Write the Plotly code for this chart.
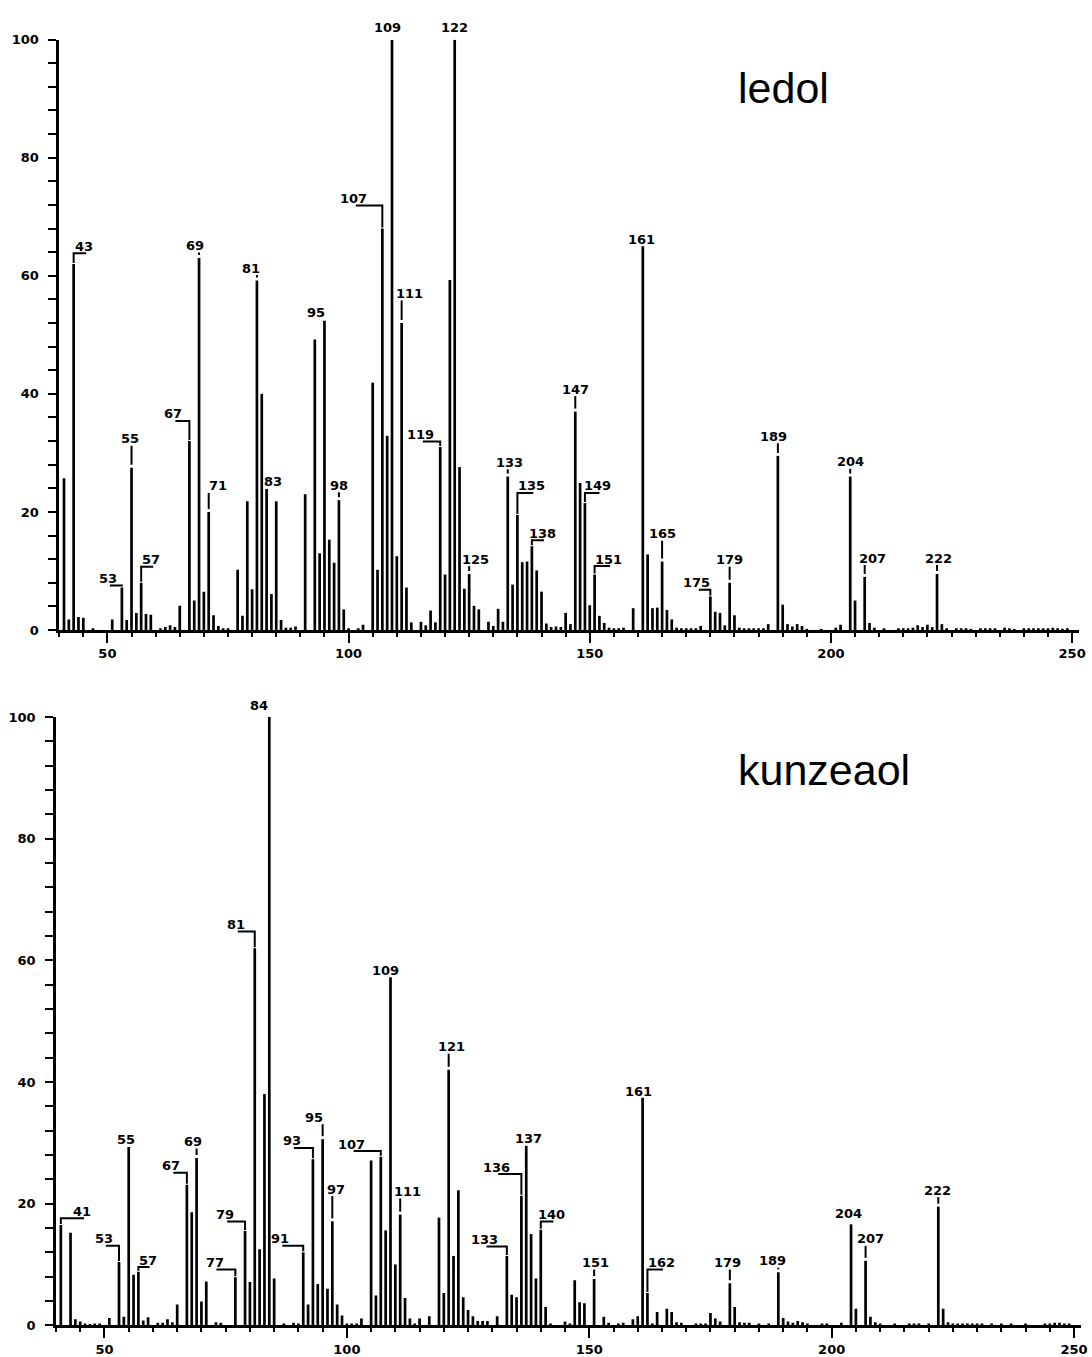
import plotly.graph_objects as go

# ---------------- data: ledol ----------------
ledol_mz = [41, 42, 43, 44, 45, 47, 51, 53, 54, 55, 56, 57, 58, 59, 61, 62, 63, 64, 65,
            67, 68, 69, 70, 71, 72, 73, 74, 75, 77, 78, 79, 80, 81, 82, 83, 84, 85, 86,
            87, 88, 89, 91, 93, 94, 95, 96, 97, 98, 99, 100, 102, 103, 105, 106, 107,
            108, 109, 110, 111, 112, 113, 115, 116, 117, 118, 119, 120, 121, 122, 123,
            124, 125, 126, 127, 129, 130, 131, 132, 133, 134, 135, 136, 137, 138, 139,
            140, 141, 142, 143, 144, 145, 146, 147, 148, 149, 150, 151, 152, 153, 154,
            155, 156, 157, 159, 161, 162, 163, 164, 165, 166, 167, 168, 169, 170, 171,
            172, 173, 175, 176, 177, 178, 179, 180, 181, 182, 183, 184, 185, 186, 187,
            189, 190, 191, 192, 193, 194, 195, 198, 201, 202, 204, 205, 207, 208, 209,
            211, 214, 215, 216, 217, 218, 219, 220, 221, 222, 223, 224, 226, 227, 228,
            229, 231, 232, 233, 234, 236, 237, 238, 240, 241, 242, 243, 244, 245, 246,
            247, 248, 249]
ledol_int = [25.7, 1.8, 62.0, 2.2, 2.1, 0.3, 1.8, 7.2, 1.7, 27.5, 2.9, 8.0, 2.7, 2.6, 0.3, 0.5, 0.8, 0.5, 4.1,
             32.0, 5.0, 63.0, 6.5, 20.0, 2.5, 0.7, 0.3, 0.3, 10.2, 2.4, 21.8, 6.9, 59.2, 40.0, 23.9, 6.1, 21.8, 1.7,
             0.4, 0.4, 0.6, 23.0, 49.2, 13.0, 52.4, 15.3, 11.4, 22.0, 3.5, 0.3, 0.3, 0.9, 41.9, 10.2, 68.0,
             32.9, 100.0, 12.5, 52.0, 7.2, 1.3, 1.4, 0.8, 3.3, 1.3, 31.0, 9.4, 59.3, 100.0, 27.6,
             7.0, 9.5, 4.1, 3.5, 1.4, 0.7, 3.6, 1.4, 26.0, 7.7, 19.5, 11.5, 11.6, 14.2, 10.1,
             6.5, 1.1, 0.5, 0.6, 0.5, 2.9, 1.0, 37.0, 24.9, 21.5, 4.2, 9.4, 2.4, 1.2, 0.4,
             0.3, 0.3, 0.4, 3.7, 65.0, 12.8, 3.7, 3.8, 11.6, 3.4, 1.8, 0.4, 0.3, 0.3, 0.3,
             0.3, 0.7, 5.7, 3.1, 2.9, 0.8, 8.0, 2.5, 0.4, 0.3, 0.3, 0.3, 0.3, 0.3, 1.0,
             29.5, 4.3, 1.0, 0.6, 1.0, 0.7, 0.2, 0.2, 0.4, 0.9, 26.0, 5.0, 9.0, 1.2, 0.4,
             0.3, 0.3, 0.3, 0.3, 0.4, 0.8, 0.5, 0.9, 0.5, 9.5, 1.0, 0.3, 0.3, 0.3, 0.3,
             0.2, 0.3, 0.3, 0.3, 0.3, 0.4, 0.3, 0.2, 0.3, 0.3, 0.3, 0.3, 0.3, 0.3, 0.4,
             0.3, 0.2, 0.3]
ledol_labels = [43, 53, 55, 57, 67, 69, 71, 81, 83, 95, 98, 107, 109, 111, 119, 122, 125,
                133, 135, 138, 147, 149, 151, 161, 165, 175, 179, 189, 204, 207, 222]

# ---------------- data: kunzeaol ----------------
kunz_mz = [41, 43, 44, 45, 46, 47, 48, 49, 51, 53, 54, 55, 56, 57, 58, 59, 61, 62, 63, 64,
           65, 67, 68, 69, 70, 71, 73, 74, 77, 79, 80, 81, 82, 83, 84, 85, 87, 89, 90, 91,
           92, 93, 94, 95, 96, 97, 98, 99, 100, 101, 102, 103, 105, 106, 107, 108, 109,
           110, 111, 112, 113, 114, 115, 117, 119, 120, 121, 122, 123, 124, 125, 126, 127,
           128, 129, 131, 133, 134, 135, 136, 137, 138, 139, 140, 141, 142, 145, 146, 147,
           148, 149, 151, 153, 154, 156, 157, 159, 160, 161, 162, 163, 164, 166, 167, 168,
           169, 172, 173, 174, 175, 176, 177, 179, 180, 181, 182, 183, 185, 187, 189, 190,
           191, 192, 193, 194, 195, 198, 199, 202, 204, 205, 207, 208, 209, 210, 213, 216,
           217, 218, 220, 222, 223, 224, 225, 226, 227, 228, 229, 230, 231, 233, 235, 237,
           240, 244, 245, 246, 247, 248, 249]
kunz_int = [16.5, 15.2, 1.0, 0.6, 0.3, 0.2, 0.3, 0.3, 1.2, 10.4, 1.4, 29.3, 8.3, 8.8, 0.8, 1.3, 0.4, 0.4, 1.0, 0.5,
            3.4, 23.1, 18.6, 27.5, 3.9, 7.2, 0.5, 0.4, 7.9, 15.5, 7.1, 62.0, 12.5, 38.0, 100.0, 7.7, 0.3, 0.4, 0.3, 12.0,
            3.4, 27.3, 6.8, 30.6, 6.0, 17.1, 3.4, 1.6, 0.3, 0.3, 0.3, 1.1, 27.1, 4.9, 27.7, 15.6, 57.2,
            10.0, 18.2, 4.5, 1.1, 0.3, 1.1, 1.5, 17.7, 5.3, 42.0, 11.4, 22.2, 4.6, 2.5, 1.5, 0.7,
            0.7, 0.7, 1.5, 11.4, 5.0, 4.6, 21.3, 29.5, 15.0, 7.7, 15.7, 3.0, 0.3, 0.6, 0.3, 7.4,
            3.8, 3.6, 7.6, 1.4, 0.4, 0.3, 0.4, 1.0, 1.5, 37.4, 5.3, 0.3, 2.2, 2.7, 2.2, 0.5,
            0.4, 0.3, 0.3, 0.3, 2.0, 1.1, 0.6, 6.9, 3.0, 0.5, 0.4, 0.4, 0.3, 0.3, 8.7, 1.2,
            0.6, 0.4, 0.7, 0.5, 0.3, 0.3, 0.3, 0.4, 16.6, 2.7, 10.6, 1.4, 0.5, 0.3, 0.3, 0.3,
            0.3, 0.3, 0.3, 19.5, 2.7, 0.5, 0.3, 0.3, 0.3, 0.3, 0.3, 0.3, 0.3, 0.3, 0.3, 0.3,
            0.3, 0.3, 0.3, 0.4, 0.4, 0.3, 0.3]
kunz_labels = [41, 53, 55, 57, 67, 69, 77, 79, 81, 84, 91, 93, 95, 97, 107, 109, 111, 121,
               133, 136, 137, 140, 151, 161, 162, 179, 189, 204, 207, 222]

x_ticks = [50, 100, 150, 200, 250]
y_ticks = [0, 20, 40, 60, 80, 100]

# ---------------- label placement (layout only) ----------------
# horizontal offset of label centre (m/z units), label centre height (% units), bracketed leader
ledol_lab_dx = [2.2, -2.9, -0.4, 2.1, -3.3, -0.8, 1.9, -1.2, 1.25, -1.7, 0.0, -5.9, -1.0, 1.7,
                -4.0, 0.0, 1.4, 0.3, 2.9, 2.1, 0.0, 2.6, 2.8, -0.3, 0.0, -2.8, 0.0, -0.9, 0.0,
                1.7, 0.3]
ledol_lab_y = [65.0, 8.7, 32.4, 11.9, 36.6, 65.1, 24.4, 61.3, 25.1, 53.8, 24.5, 73.1, 102.1,
               57.0, 33.1, 102.1, 12.0, 28.4, 24.4, 16.4, 40.8, 24.4, 12.0, 66.1, 16.3, 8.0,
               11.9, 32.8, 28.5, 12.2, 12.2]
ledol_lab_br = [1, 1, 0, 1, 1, 0, 0, 0, 0, 0, 0, 1, 0, 0, 1, 0, 0, 0, 1, 1, 0, 1, 1, 0, 0, 1,
                0, 0, 0, 0, 0]

kunz_lab_dx = [4.4, -3.1, -0.5, 1.9, -3.2, -0.75, -4.3, -4.1, -3.9, -2.1, -4.7, -4.3, -1.8,
               0.75, -6.0, -1.0, 1.5, 0.5, -4.6, -5.2, 0.55, 2.2, 0.2, -0.8, 2.8, -0.4, -1.3,
               -0.5, 1.1, -0.2]
kunz_lab_y = [18.75, 14.2, 30.5, 10.7, 26.2, 30.2, 10.3, 18.2, 65.9, 101.9, 14.2, 30.3, 34.2,
              22.4, 29.8, 58.4, 22.0, 45.8, 14.1, 26.0, 30.7, 18.2, 10.3, 38.5, 10.3, 10.3,
              10.6, 18.4, 14.2, 22.2]
kunz_lab_br = [1, 1, 0, 1, 1, 0, 1, 1, 1, 0, 1, 1, 0, 0, 1, 0, 0, 0, 1, 1, 0, 1, 0, 0, 1, 0,
               0, 0, 0, 0]

W, H = 1092, 1357
panels = [
    dict(mz=ledol_mz, it=ledol_int, labels=ledol_labels, dx=ledol_lab_dx, ly=ledol_lab_y,
         br=ledol_lab_br, name="ledol", xpx=(59.5, 1085.3), ypx=(630, 33), namey=82),
    dict(mz=kunz_mz, it=kunz_int, labels=kunz_labels, dx=kunz_lab_dx, ly=kunz_lab_y,
         br=kunz_lab_br, name="kunzeaol", xpx=(56.3, 1087.3), ypx=(1333, 718), namey=772),
]

LABFONT = dict(family="DejaVu Sans", size=13, color="black", weight="bold")
fig = go.Figure()
annotations = []
layout = {}

for i, p in enumerate(panels):
    sx = "" if i == 0 else str(i + 1)
    ppu = (p["ypx"][0] - p["ypx"][1]) / 100.0
    # sticks
    xs, ys = [], []
    for m, v in zip(p["mz"], p["it"]):
        xs += [m, m, None]
        ys += [0, v, None]
    fig.add_trace(go.Scatter(x=xs, y=ys, mode="lines", line=dict(color="black", width=2.7),
                             xaxis="x" + sx, yaxis="y" + sx, hoverinfo="skip", showlegend=False))
    # leaders
    peak = dict(zip(p["mz"], p["it"]))
    lx, lyy = [], []
    for m, dx, ly, br in zip(p["labels"], p["dx"], p["ly"], p["br"]):
        top = peak[m]
        base = ly - 7.0 / ppu
        if br:
            lx += [m + dx + 0.4, m, m, None]
            lyy += [base, base, min(top + 1.0 / ppu, base), None]
        else:
            lo = top + 3.0 / ppu
            if base - lo > 1.5 / ppu and base <= 100:
                lx += [m, m, None]
                lyy += [base, lo, None]
        yv = min(ly, 100.0)
        annotations.append(dict(x=m + dx, y=yv, xref="x" + sx, yref="y" + sx, text=str(m),
                                showarrow=False, xanchor="center", yanchor="middle",
                                yshift=(ly - yv) * ppu, font=LABFONT))
    fig.add_trace(go.Scatter(x=lx, y=lyy, mode="lines", line=dict(color="black", width=2),
                             xaxis="x" + sx, yaxis="y" + sx, hoverinfo="skip", showlegend=False))
    annotations.append(dict(x=740 / W, y=1 - p["namey"] / H, xref="paper", yref="paper",
                            text=p["name"], showarrow=False, xanchor="left", yanchor="middle",
                            font=dict(family="Liberation Sans", size=43, color="black")))
    tickfont = dict(family="DejaVu Sans", size=13, color="black", weight="bold")
    layout["xaxis" + sx] = dict(
        domain=[p["xpx"][0] / W, p["xpx"][1] / W], range=[40, 251.5], anchor="y" + sx,
        showline=True, linecolor="black", linewidth=2.5, ticks="outside",
        tickvals=x_ticks, ticklen=10, tickwidth=2, tickcolor="black",
        minor=dict(tickvals=list(range(40, 251, 5)), ticklen=4, tickwidth=2,
                   tickcolor="black", ticks="outside"),
        showgrid=False, zeroline=False, tickfont=tickfont, fixedrange=True)
    layout["yaxis" + sx] = dict(
        domain=[1 - p["ypx"][0] / H, 1 - p["ypx"][1] / H], range=[0, 100], anchor="x" + sx,
        showline=True, linecolor="black", linewidth=2.5, ticks="outside",
        tickvals=y_ticks, ticklen=8, tickwidth=2, tickcolor="black",
        minor=dict(tickvals=list(range(0, 101, 4)), ticklen=8, tickwidth=1.5,
                   tickcolor="black", ticks="outside"),
        showgrid=False, zeroline=False, tickfont=tickfont, ticklabelstandoff=7,
        fixedrange=True)

fig.update_layout(width=W, height=H, autosize=False, margin=dict(l=0, r=0, t=0, b=0),
                  paper_bgcolor="white", plot_bgcolor="white", annotations=annotations,
                  **layout)
fig.write_html("out.html", config={"displayModeBar": False},
               post_script="document.body.style.margin='0';document.body.style.overflow='hidden';")
